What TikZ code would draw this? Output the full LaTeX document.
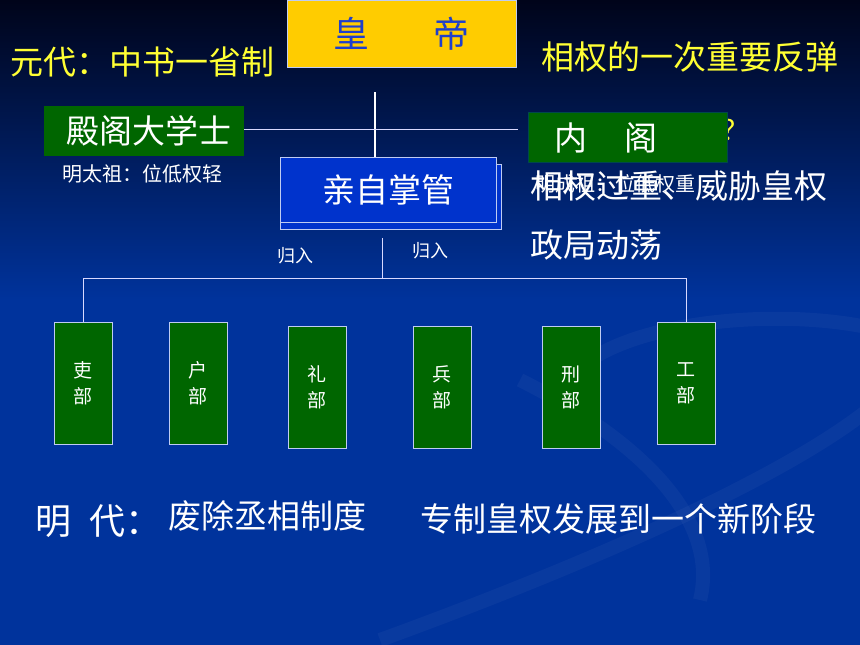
\documentclass[tikz,border=0pt]{standalone}
\usepackage{fontspec}
\setmainfont{Noto Sans CJK SC}
\definecolor{slidedark}{HTML}{00041A}
\definecolor{slideblue}{HTML}{00339C}
\definecolor{hdyellow}{HTML}{FFCC00}
\definecolor{hdblue}{HTML}{1F3FCC}
\definecolor{boxgreen}{HTML}{006600}
\definecolor{boxblue}{HTML}{0033CC}
\definecolor{textyellow}{HTML}{FFFF33}
\begin{document}
\begin{tikzpicture}[x=1pt,y=-1pt,
    big/.style={font=\fontsize{33}{40}\selectfont,inner sep=0pt},
    small/.style={font=\fontsize{20}{26}\selectfont,inner sep=0pt,text=white},
    frame/.style={draw=white!75!boxblue,line width=0.8pt,inner sep=0pt,anchor=north west},
    dept/.style={frame,fill=boxgreen,minimum width=58pt,minimum height=122pt,
      text=white,align=center,font=\fontsize{19}{26}\selectfont},
    link/.style={draw=white!85!blue,line width=0.8pt}]
  \useasboundingbox (0,0) rectangle (860,645);
  % background
  \shade[top color=slidedark,bottom color=slideblue] (0,0) rectangle (860,300);
  \fill[slideblue] (0,299) rectangle (860,645);
  \begin{scope}[white,opacity=0.035,line width=14pt]
    \draw (380,640) .. controls (600,560) and (800,470) .. (880,400);
    \draw (560,420) .. controls (540,330) and (760,300) .. (880,330);
    \draw (520,380) .. controls (640,440) and (720,520) .. (700,600);
  \end{scope}
  % top part
  \node[frame,fill=hdyellow,minimum width=229pt,minimum height=67pt,
    text=hdblue,font=\fontsize{36}{40}\selectfont] (emperor) at (287,0) {皇\hspace{64pt}帝};
  \node[big,text=textyellow,anchor=west] (yuan) at (10,62) {元代：中书一省制};
  \node[big,text=textyellow,anchor=west] (rebound) at (541,57) {相权的一次重要反弹};
  \node[big,font=\fontsize{28}{32}\selectfont,text=textyellow,anchor=west] (mark) at (721,130) {？};
  \node[frame,draw=boxgreen,fill=boxgreen,minimum width=199pt,minimum height=49pt,
    big,text=white] (dange) at (44,106) {\hspace{11pt}殿阁大学士};
  \node[small,anchor=west] (taizu) at (62,174) {明太祖：位低权轻};
  \node[frame,draw=boxgreen!70!blue,fill=boxgreen,minimum width=199pt,minimum height=50pt,
    big,text=white] (neige) at (528,112) {内\hspace{37pt}阁\hspace*{44pt}\mbox{}};
  \node[big,text=white,anchor=west] (heavy) at (530,186) {相权过重、威胁皇权};
  \node[small,anchor=west] (chengzu) at (535,184) {明成祖：位低权重};
  \node[big,text=white,anchor=west] (unrest) at (530,245) {政局动荡};
  \node[frame,fill=boxblue,minimum width=221pt,minimum height=65pt] (selfback) at (280,164) {};
  \node[frame,fill=boxblue,minimum width=216pt,minimum height=65pt,
    big,text=white] (self) at (280,157) {亲自掌管};
  \coordinate (selftop) at (375,92);
  \coordinate (neigeleft) at (518,129);
  \coordinate (treetop) at (382,238);
  \coordinate (treemid) at (382,278);
  \node[small,font=\fontsize{18}{22}\selectfont] (intoa) at (295,256) {归入};
  \node[small,font=\fontsize{18}{22}\selectfont] (intob) at (430,251) {归入};
  % six ministries
  \node[dept] (li) at (54,322) {吏\\部};
  \node[dept] (hu) at (169,322) {户\\部};
  \node[dept] (rites) at (288,326) {礼\\部};
  \node[dept] (bing) at (413,326) {兵\\部};
  \node[dept] (xing) at (542,326) {刑\\部};
  \node[dept] (gong) at (657,322) {工\\部};
  % bottom lines
  \node[big,text=white,font=\fontsize{36}{40}\selectfont,anchor=west] (ming) at (35,521) {明\hspace{18pt}代：};
  \node[big,text=white,anchor=west] (abolish) at (168,516) {废除丞相制度};
  \node[big,text=white,anchor=west] (autocracy) at (420,519) {专制皇权发展到一个新阶段};
  \begin{scope}[link]
    \draw[line width=2pt,white] (selftop) -- (selftop |- self.north);
    \draw (dange.east |- neigeleft) -- (neigeleft);
    \draw (treetop) -- (treemid);
    \draw (li.north |- treemid) -- (gong.north |- treemid);
    \draw (li.north |- treemid) -- (li.north);
    \draw (gong.north |- treemid) -- (gong.north);
  \end{scope}
\end{tikzpicture}
\end{document}
